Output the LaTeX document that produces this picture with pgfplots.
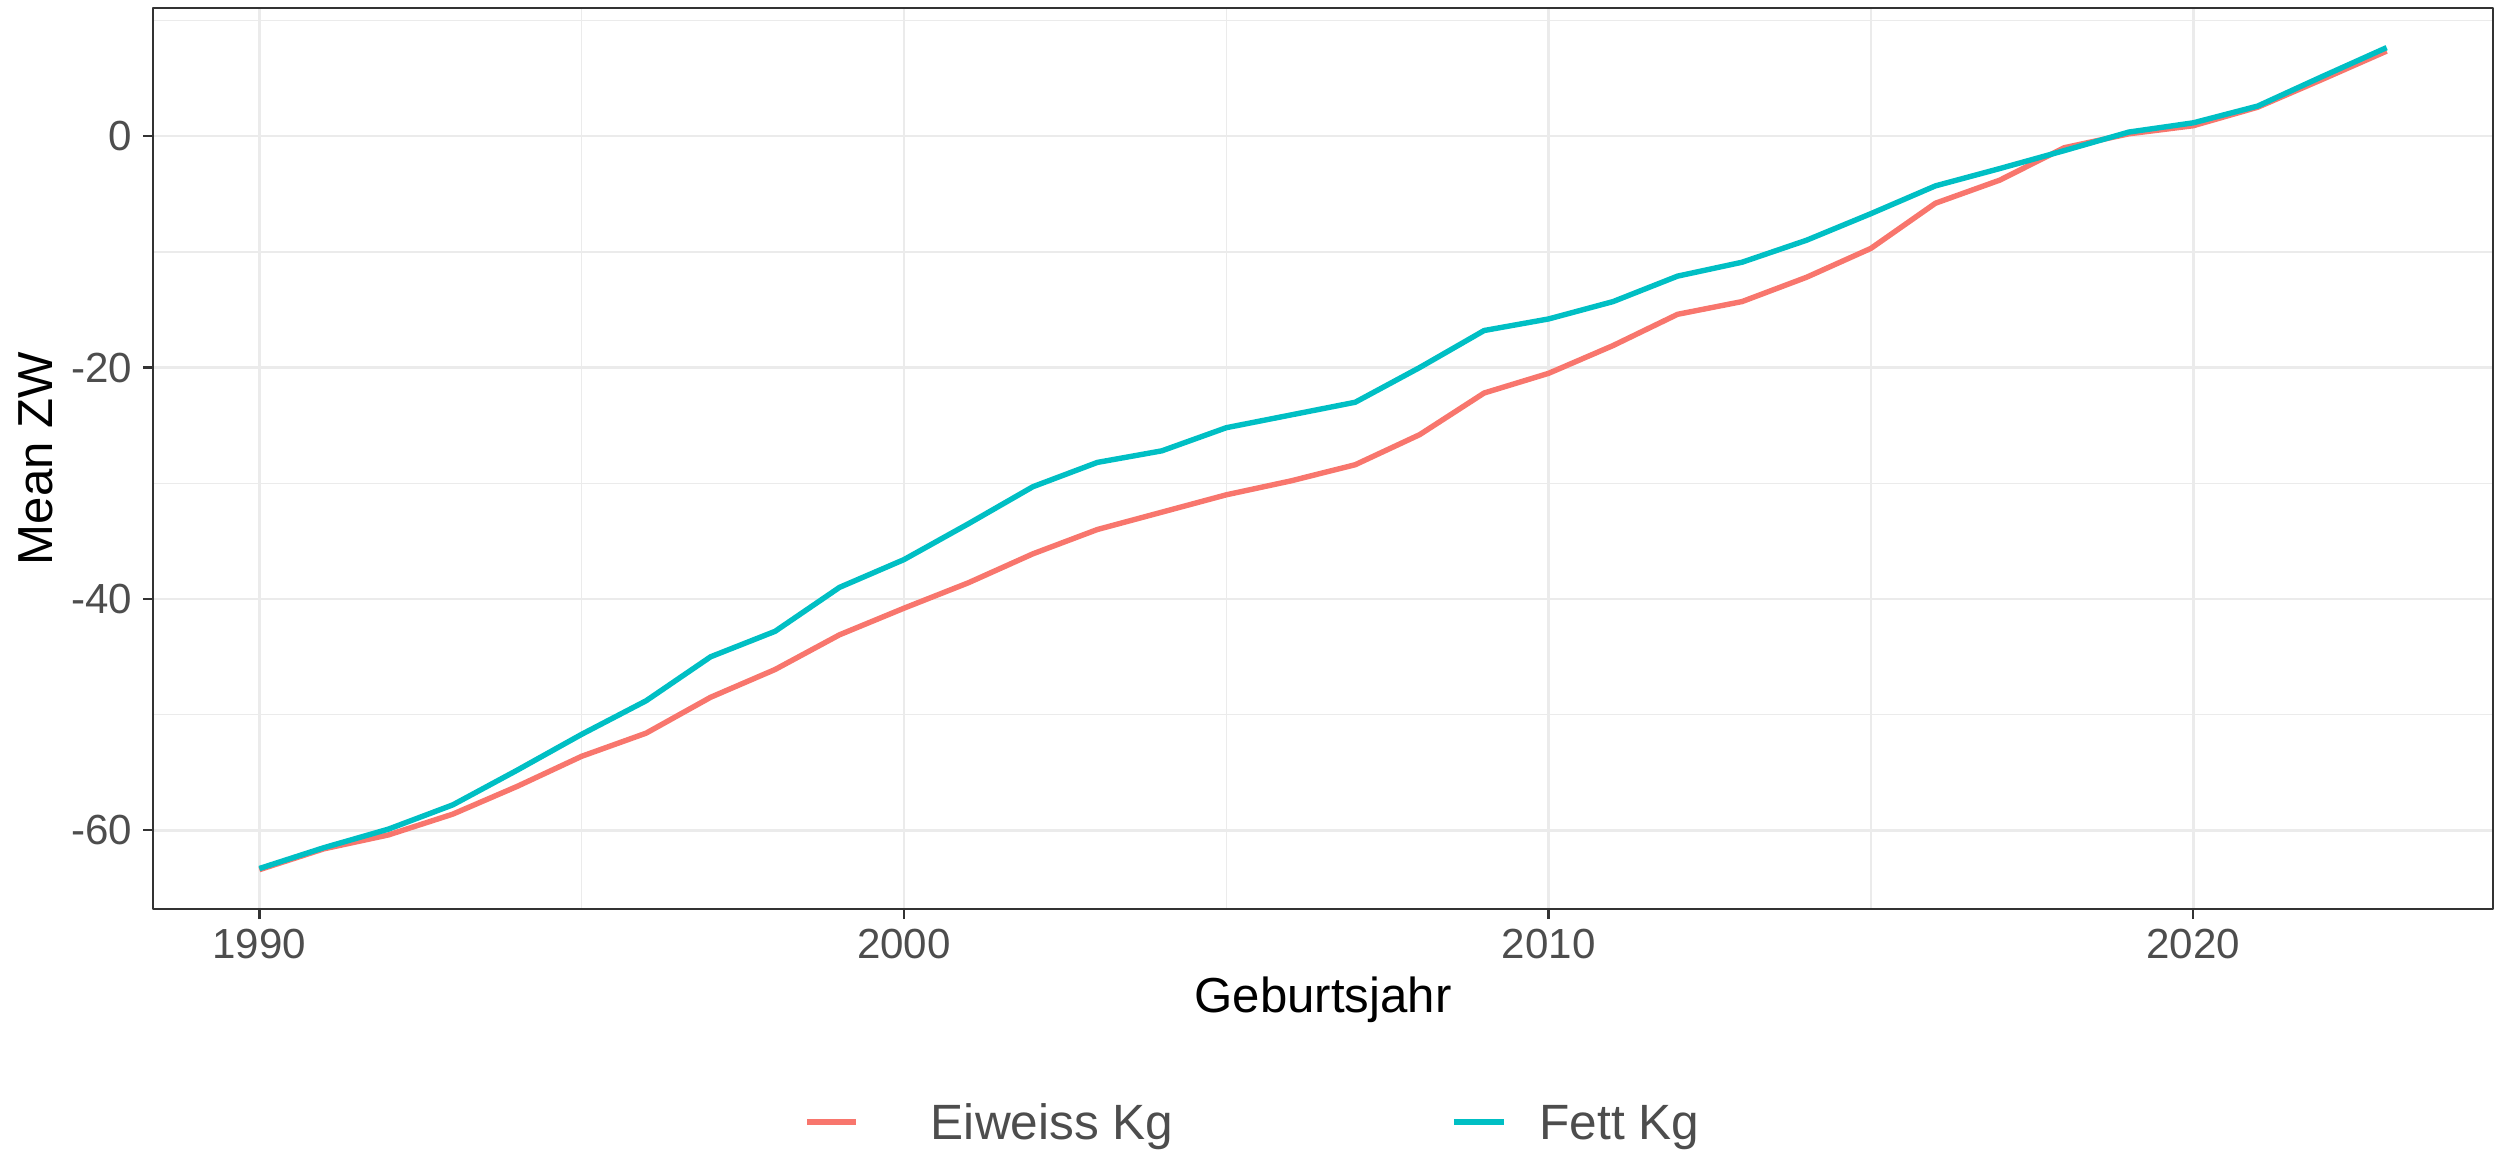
\documentclass[border=0pt]{standalone}
\usepackage{pgfplots}
\pgfplotsset{compat=1.18}
\usepackage{pgfplotstable}
\usepackage{fontspec}
\setmainfont{Liberation Sans}

\definecolor{eiw}{HTML}{F8766D}
\definecolor{fett}{HTML}{00BFC4}
\definecolor{gridc}{HTML}{EBEBEB}
\definecolor{axc}{HTML}{333333}
\definecolor{tickc}{HTML}{4D4D4D}

% mean ZW per Geburtsjahr
\pgfplotstableread{
jahr eiweiss fett
1990 -63.4 -63.3
1991 -61.6 -61.5
1992 -60.4 -59.9
1993 -58.6 -57.8
1994 -56.2 -54.8
1995 -53.6 -51.7
1996 -51.6 -48.8
1997 -48.5 -45.0
1998 -46.1 -42.8
1999 -43.1 -39.0
2000 -40.8 -36.6
2001 -38.6 -33.5
2002 -36.1 -30.3
2003 -34.0 -28.2
2004 -32.5 -27.2
2005 -31.0 -25.2
2006 -29.8 -24.1
2007 -28.4 -23.0
2008 -25.8 -20.0
2009 -22.2 -16.8
2010 -20.5 -15.8
2011 -18.1 -14.3
2012 -15.4 -12.1
2013 -14.3 -10.9
2014 -12.2 -9.0
2015 -9.7 -6.7
2016 -5.8 -4.3
2017 -3.8 -2.8
2018 -1.0 -1.25
2019 0.2 0.35
2020 0.9 1.15
2021 2.5 2.6
2022 4.9 5.15
2023 7.35 7.65
}\zw

\begin{document}
\begin{tikzpicture}
\path[use as bounding box] (-36.72pt,-58.56pt) rectangle (563.52pt,218.16pt);
\begin{axis}[
  scale only axis,
  width=561.6pt, height=216.2pt,
  xmin=1988.35, xmax=2024.65,
  ymin=-66.8, ymax=11.06,
  xtick={1990,2000,2010,2020},
  xticklabels={1990,2000,2010,2020},
  ytick={-60,-40,-20,0},
  yticklabels={-60,-40,-20,0},
  minor xtick={1995,2005,2015},
  minor ytick={-50,-30,-10,10},
  grid=both,
  major grid style={gridc, line width=0.65pt},
  minor grid style={gridc, line width=0.35pt},
  tick align=outside,
  major tick length=2.4pt,
  minor tick length=0pt,
  xtick pos=bottom, ytick pos=left,
  tick style={axc, line width=0.55pt},
  axis line style={axc, line width=0.55pt},
  ticklabel style={font=\fontsize{10.1}{12}\selectfont, text=tickc, inner sep=0pt},
  xticklabel style={anchor=north, yshift=-2.16pt},
  yticklabel style={anchor=east, xshift=-2.4pt},
  line join=round,
]
\addplot[eiw, line width=1.3pt] table[x=jahr, y=eiweiss] {\zw};
\addplot[fett, line width=1.3pt] table[x=jahr, y=fett] {\zw};
\end{axis}
% axis titles
\node[anchor=base, inner sep=0pt, font=\fontsize{11.8}{14}\selectfont] at (280.8pt,-24.9pt) {Geburtsjahr};
\node[rotate=90, anchor=center, inner sep=0pt, font=\fontsize{11.8}{14}\selectfont] at (-28.2pt,108.1pt) {Mean ZW};
% legend below the panel
\draw[eiw, line width=1.4pt] (156.96pt,-51.12pt) -- (168.72pt,-51.12pt);
\node[anchor=base west, inner sep=0pt, text=tickc, font=\fontsize{11.9}{14}\selectfont] at (186.5pt,-55.2pt) {Eiweiss Kg};
\draw[fett, line width=1.4pt] (312.2pt,-51.12pt) -- (324.2pt,-51.12pt);
\node[anchor=base west, inner sep=0pt, text=tickc, font=\fontsize{11.9}{14}\selectfont] at (332.6pt,-55.2pt) {Fett Kg};
\end{tikzpicture}
\end{document}
